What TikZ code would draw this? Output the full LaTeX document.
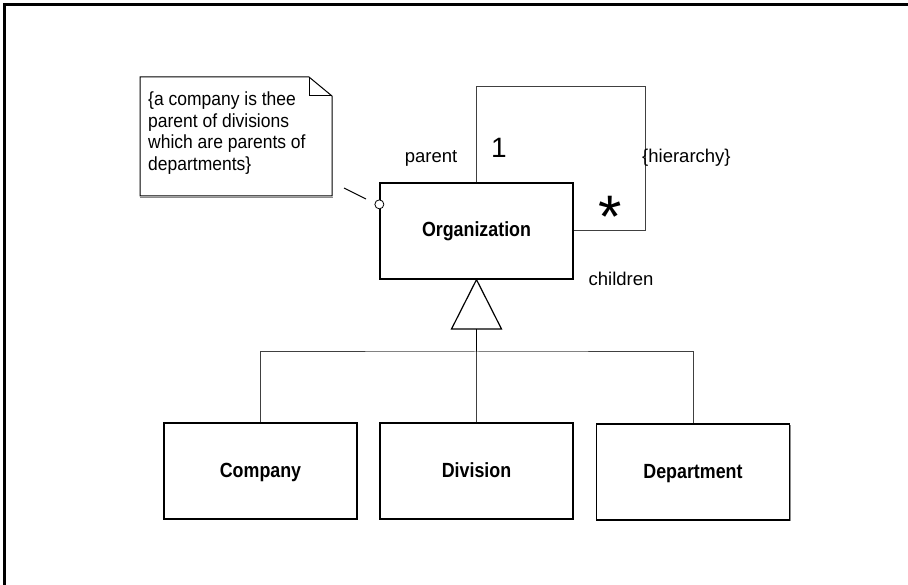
\documentclass[tikz,border=0pt]{standalone}
\usepackage{fontspec}
\usetikzlibrary{shadows}
\setmainfont{Liberation Sans}[FakeStretch=0.87]
\newfontfamily\labelfont{Liberation Sans}
\newfontfamily\notefont{Liberation Sans}[FakeStretch=0.92]
\begin{document}
\begin{tikzpicture}[x=1pt,y=-1pt,
  classbox/.style={draw, line width=1.3pt, fill=white, minimum width=193pt,
    minimum height=96pt, inner sep=0pt, text height=15pt, text depth=3pt,
    drop shadow={shadow xshift=1.2pt, shadow yshift=-1.2pt, fill=black!45, opacity=1},
    font=\bfseries\fontsize{20.5}{24}\selectfont},
  lbl/.style={inner sep=0pt, font=\labelfont\fontsize{18.5}{22}\selectfont},
  link/.style={draw=black!75, line width=1pt},
  outline/.style={draw, line width=1.2pt}]

\fill[white] (0,0) rectangle (908,585);
\useasboundingbox (0,0) rectangle (908,585);

% page frame (top and left edges)
\draw[line width=2.2pt] (4.5,585) -- (4.5,4.5) -- (908,4.5);

% classes
\node[classbox] (org) at (476.5,231) {Organization};
\node[classbox] (company) at (260.5,471) {Company};
\node[classbox] (division) at (476.5,471) {Division};
\node[classbox] (department) at (693,472) {Department};

% recursive association
\coordinate (loopcorner) at (645,87);
\draw[link] (org.north) |- (loopcorner) |- (org.east);
\node[lbl] (parentlbl) at (431,158) {parent};
\node[inner sep=0pt, font=\labelfont\fontsize{28}{28}\selectfont] (one) at (499,148) {1};
\node[inner sep=0pt, anchor=north, font=\labelfont\fontsize{60}{60}\selectfont] (many) at (610,196) {*};
\node[lbl, anchor=west] (hier) at (642,158) {\{hierarchy\}};
\node[lbl] (children) at (621,279) {children};

% generalization
\coordinate (genbase) at (476.5,329);
\coordinate (bar) at (476.5,352);
\draw[outline] (org.south) -- ([xshift=-25pt]genbase) -- ([xshift=25pt]genbase) -- cycle;
\draw[line width=1.5pt] (genbase) -- (bar);
\draw[link] (company.north) |- (bar) -| (department.north);
\draw[link] (division.north) -- (bar);

% note with folded corner
\coordinate (nnw) at (140,77);
\coordinate (nfold) at (309,77);
\coordinate (nfoldin) at (309,96);
\coordinate (nne) at (332,96);
\coordinate (nse) at (332,196);
\coordinate (nsw) at (140,196);
\draw[black!45, line width=1.2pt] ([yshift=-1.2pt]nsw) -- ([xshift=1.2pt,yshift=-1.2pt]nse);
\draw[outline, line width=1pt] (nnw) -- (nfold) -- (nne) -- (nse) -- (nsw) -- cycle;
\draw[line width=1pt] (nfold) -- (nfoldin) -- (nne);
\node[inner sep=0pt, anchor=north west, align=left, font=\notefont\fontsize{19}{21.5}\selectfont]
  (notetext) at (148,92) {\{a company is thee\\parent of divisions\\which are parents of\\departments\}};

% anchor from note to class
\node[draw, circle, line width=0.8pt, fill=white, minimum size=9pt, inner sep=0pt]
  (port) at ([yshift=-22pt]org.north west) {};
\coordinate (anchorA) at (344,188);
\coordinate (anchorB) at (366,199);
\draw[line width=1pt] (anchorA) -- (anchorB);
\end{tikzpicture}
\end{document}
